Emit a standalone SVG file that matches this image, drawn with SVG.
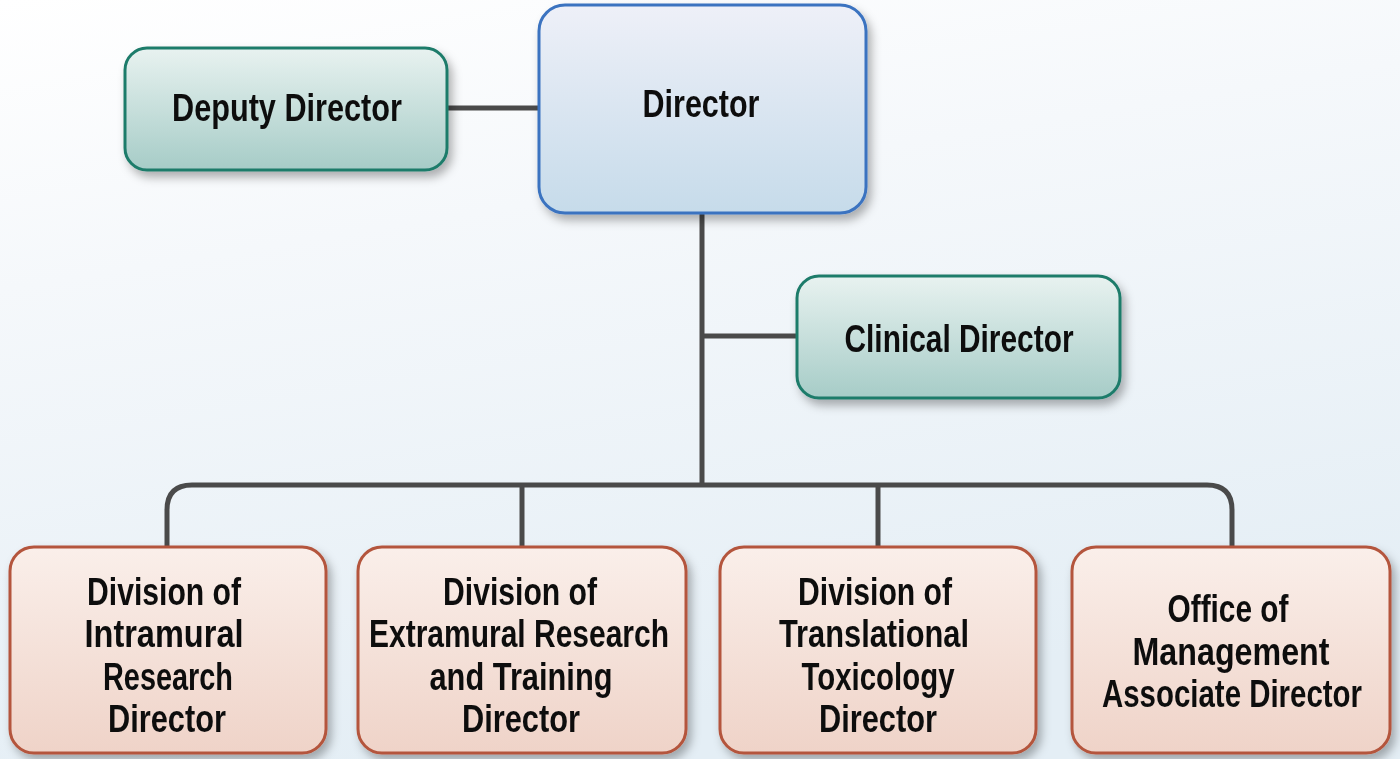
<svg xmlns="http://www.w3.org/2000/svg" width="1400" height="759" viewBox="0 0 1400 759">
<defs>
<linearGradient id="bg" x1="0" y1="0" x2="0.3" y2="1">
<stop offset="0" stop-color="#ffffff"/>
<stop offset="0.35" stop-color="#f5f8fb"/>
<stop offset="1" stop-color="#e4eef5"/>
</linearGradient>
<linearGradient id="gTeal" x1="0" y1="0" x2="0" y2="1">
<stop offset="0" stop-color="#e8f2f0"/>
<stop offset="1" stop-color="#a6ccc7"/>
</linearGradient>
<linearGradient id="gBlue" x1="0" y1="0" x2="0" y2="1">
<stop offset="0" stop-color="#eef0f8"/>
<stop offset="1" stop-color="#c6dbea"/>
</linearGradient>
<linearGradient id="gRed" x1="0" y1="0" x2="0" y2="1">
<stop offset="0" stop-color="#faefea"/>
<stop offset="1" stop-color="#efd3c8"/>
</linearGradient>
<filter id="sh" x="-10%" y="-10%" width="125%" height="130%">
<feDropShadow dx="4" dy="6" stdDeviation="5" flood-color="#000" flood-opacity="0.3"/>
</filter>
</defs>
<style>
.t{font-family:"Liberation Sans",Arial,sans-serif;font-weight:bold;font-size:38px;fill:#111;text-anchor:middle}
.teal{fill:url(#gTeal);stroke:#1f7b6b;stroke-width:3}
.blue{fill:url(#gBlue);stroke:#3b73c0;stroke-width:3}
.red{fill:url(#gRed);stroke:#b4553c;stroke-width:3}
.c{fill:none;stroke:#4a4a4a;stroke-width:5}
</style>
<rect width="1400" height="759" fill="url(#bg)"/>
<g id="connectors">
<line class="c" x1="447" y1="108" x2="540" y2="108"/>
<line class="c" x1="702" y1="213" x2="702" y2="487"/>
<line class="c" x1="702" y1="336" x2="798" y2="336"/>
<path class="c" d="M167 548 V510 Q167 485 192 485 H1207 Q1232 485 1232 510 V548"/>
<line class="c" x1="522" y1="485" x2="522" y2="548"/>
<line class="c" x1="878" y1="485" x2="878" y2="548"/>
</g>
<g id="deputy" filter="url(#sh)">
<rect class="teal" x="125" y="48" width="322" height="122" rx="22"/>
<text class="t" x="287" y="121" textLength="230" lengthAdjust="spacingAndGlyphs">Deputy Director</text>
</g>
<g id="director" filter="url(#sh)">
<rect class="blue" x="539" y="5" width="327" height="208" rx="26"/>
<text class="t" x="701" y="117" textLength="117" lengthAdjust="spacingAndGlyphs">Director</text>
</g>
<g id="clinical" filter="url(#sh)">
<rect class="teal" x="797" y="276" width="323" height="122" rx="22"/>
<text class="t" x="959" y="352" textLength="229" lengthAdjust="spacingAndGlyphs">Clinical Director</text>
</g>
<g id="dir" filter="url(#sh)">
<rect class="red" x="10" y="547" width="316" height="206" rx="24"/>
<text class="t" x="164" y="605" textLength="154" lengthAdjust="spacingAndGlyphs">Division of</text>
<text class="t" x="164" y="647" textLength="159" lengthAdjust="spacingAndGlyphs">Intramural</text>
<text class="t" x="168" y="690" textLength="130" lengthAdjust="spacingAndGlyphs">Research</text>
<text class="t" x="167" y="732" textLength="118" lengthAdjust="spacingAndGlyphs">Director</text>
</g>
<g id="dert" filter="url(#sh)">
<rect class="red" x="358" y="547" width="328" height="206" rx="24"/>
<text class="t" x="520" y="605" textLength="154" lengthAdjust="spacingAndGlyphs">Division of</text>
<text class="t" x="519" y="647" textLength="300" lengthAdjust="spacingAndGlyphs">Extramural Research</text>
<text class="t" x="521" y="690" textLength="183" lengthAdjust="spacingAndGlyphs">and Training</text>
<text class="t" x="521" y="732" textLength="118" lengthAdjust="spacingAndGlyphs">Director</text>
</g>
<g id="dtt" filter="url(#sh)">
<rect class="red" x="720" y="547" width="316" height="206" rx="24"/>
<text class="t" x="875" y="605" textLength="154" lengthAdjust="spacingAndGlyphs">Division of</text>
<text class="t" x="874" y="647" textLength="190" lengthAdjust="spacingAndGlyphs">Translational</text>
<text class="t" x="878" y="690" textLength="153" lengthAdjust="spacingAndGlyphs">Toxicology</text>
<text class="t" x="878" y="732" textLength="118" lengthAdjust="spacingAndGlyphs">Director</text>
</g>
<g id="om" filter="url(#sh)">
<rect class="red" x="1072" y="547" width="318" height="206" rx="24"/>
<text class="t" x="1228" y="622" textLength="121" lengthAdjust="spacingAndGlyphs">Office of</text>
<text class="t" x="1231" y="665" textLength="197" lengthAdjust="spacingAndGlyphs">Management</text>
<text class="t" x="1232" y="707" textLength="260" lengthAdjust="spacingAndGlyphs">Associate Director</text>
</g>
</svg>
